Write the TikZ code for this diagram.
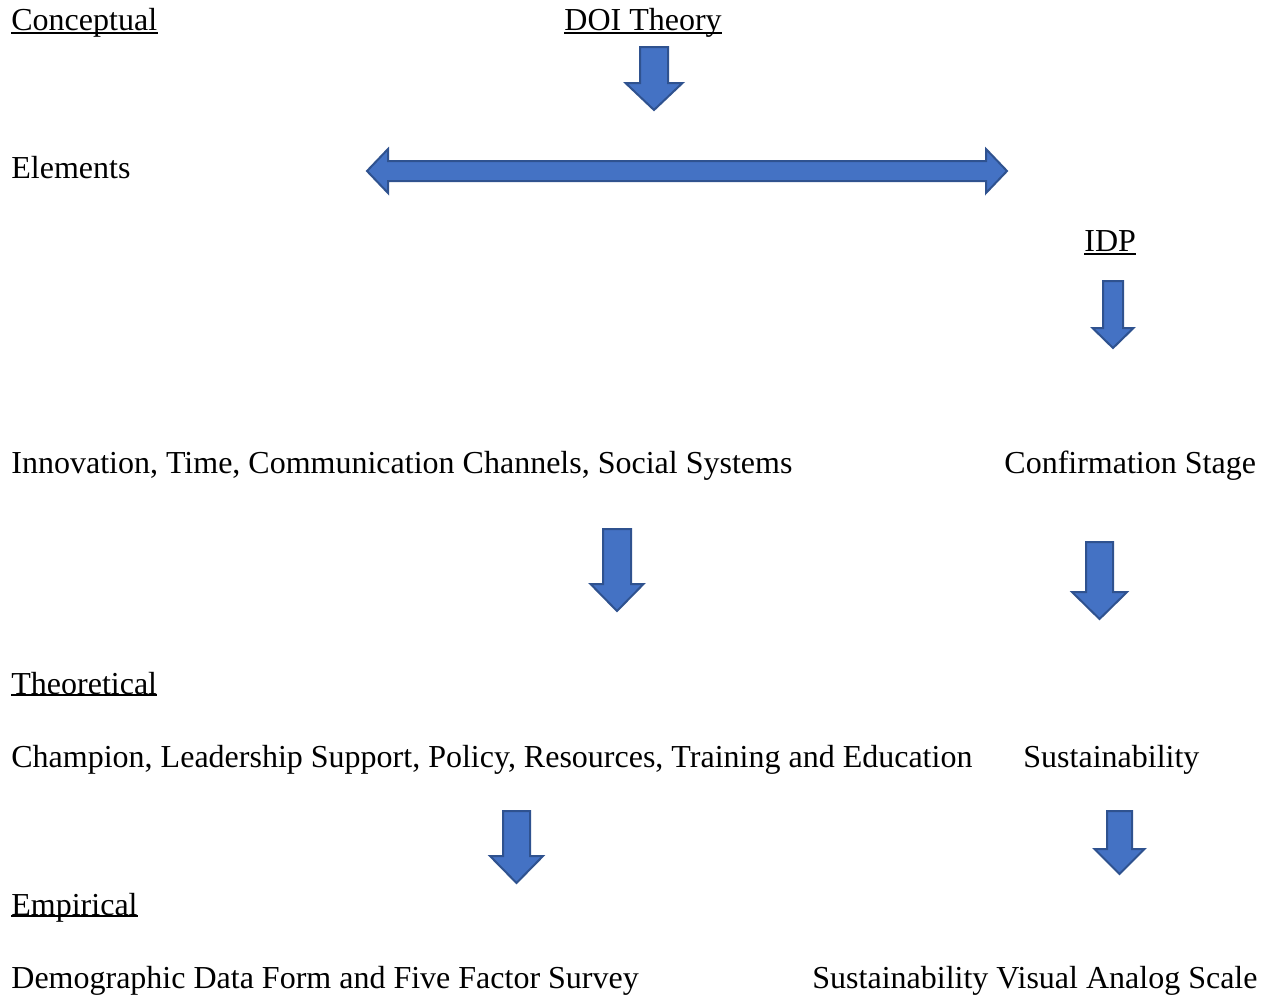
\documentclass[tikz,border=0pt]{standalone}
\usepackage{fontspec}
\setmainfont{Liberation Serif}
\definecolor{blockfill}{HTML}{4472C4}
\definecolor{blockedge}{HTML}{2F528F}
\tikzset{
  label/.style={anchor=base west, inner sep=0pt, font=\fontsize{16}{19}\selectfont},
  uline/.style={line width=0.7pt},
  blockarrow/.style={fill=blockfill, draw=blockedge, line width=1pt, line join=miter}
}
% down block arrow: {centre x}{shaft top}{head start}{tip}{shaft half}{head half}
\newcommand{\downblock}[6]{%
  \draw[blockarrow] (#1-#5,#2) -- (#1+#5,#2) -- (#1+#5,#3) -- (#1+#6,#3)
    -- (#1,#4) -- (#1-#6,#3) -- (#1-#5,#3) -- cycle;}
\begin{document}
\begin{tikzpicture}[x=0.5pt, y=-0.5pt]
    \useasboundingbox (0,0) rectangle (1267,998);

    % Conceptual level
    \node[label] (concept) at (11,30) {Conceptual};
    \node[label] (doi) at (564,30) {DOI Theory};
    \node[label] (elements) at (11,178) {Elements};
    \node[label] (idp) at (1084,251) {IDP};
    \node[label] (doielems) at (11,473) {Innovation, Time, Communication Channels, Social Systems};
    \node[label] (confirm) at (1004,473) {Confirmation Stage};

    % Theoretical level
    \node[label] (theory) at (11,694) {Theoretical};
    \node[label] (factors) at (11,767) {Champion, Leadership Support, Policy, Resources, Training and Education};
    \node[label] (sustain) at (1023,767) {Sustainability};

    % Empirical level
    \node[label] (empiric) at (11,915) {Empirical};
    \node[label] (survey) at (11,988) {Demographic Data Form and Five Factor Survey};
    \node[label] (vas) at (812,988) {Sustainability Visual Analog Scale};

    % Underlined headings
    \foreach \n/\d in {concept/3, doi/3, idp/3, theory/1, empiric/1}
        \draw[uline] ([yshift=-\d*0.5pt]\n.base west) -- ([yshift=-\d*0.5pt]\n.base east);

    % Block arrows
    \downblock{654}{47}{83}{110}{14}{28.5}
    \draw[blockarrow] (367,171) -- (388,149) -- (388,161) -- (986,161) -- (986,149)
        -- (1007,171) -- (986,193) -- (986,181) -- (388,181) -- (388,193) -- cycle;
    \downblock{1113}{281}{328}{348}{10}{20.5}
    \downblock{617}{529}{584}{611}{14}{26.5}
    \downblock{1099.5}{542}{592}{619}{13.5}{27.5}
    \downblock{516.5}{811}{856}{883}{13.5}{26.5}
    \downblock{1119.5}{811}{849}{874}{12.5}{25}
\end{tikzpicture}
\end{document}
